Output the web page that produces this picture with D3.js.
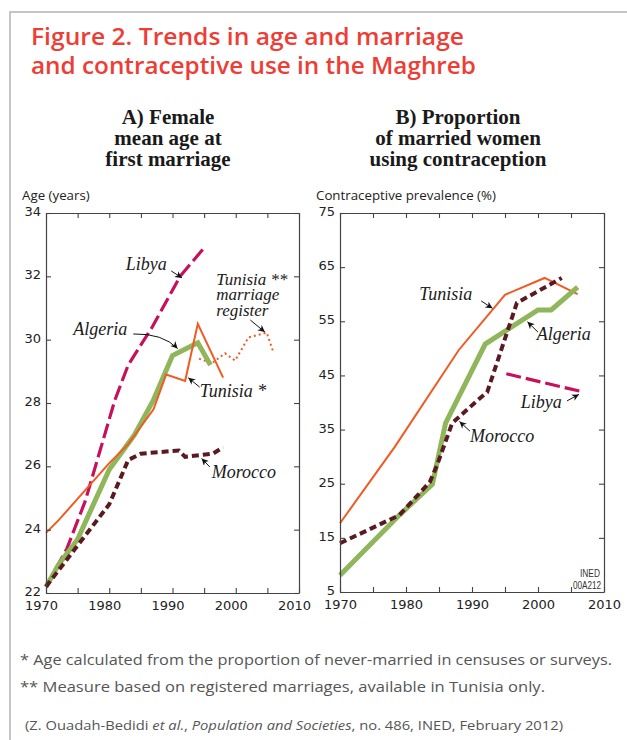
<!DOCTYPE html>
<html>
<head>
<meta charset="utf-8">
<script src="https://cdn.jsdelivr.net/npm/d3@7"></script>
<style>
  body { margin: 0; background: #fff; }
  svg { display: block; }
</style>
</head>
<body>
<script>
// Panel A: female mean age at first marriage  [year, age]
const libyaAge = [[1970,22.2],[1973.3,23.4],[1976.2,24.9],[1980.9,28.1],[1983,29.2],[1986.8,30.4],[1991.2,32.0],[1995,32.9]];
const algeriaAge = [[1970,22.2],[1972,22.9],[1975,23.7],[1980,25.9],[1984,27.0],[1987,28.1],[1990,29.5],[1994,29.9],[1996,29.2]];
const tunisiaAge = [[1970,23.9],[1972,24.3],[1976,25.2],[1980,26.1],[1983,26.7],[1987,27.8],[1989,28.9],[1992,28.7],[1994,30.5],[1998,28.8]];
const tunisiaRegister = [[1994.2,29.4],[1996.2,29.25],[1998.3,29.57],[1999.9,29.34],[2002,30.07],[2004.9,30.22],[2006,29.57]];
const moroccoAge = [[1970,22.2],[1975,23.5],[1980,24.8],[1983,26.2],[1985,26.4],[1991,26.5],[1992,26.3],[1996.4,26.4],[1998,26.6]];

// Panel B: contraceptive prevalence (%)  [year, percent]
const tunisiaCP = [[1970,17.7],[1978.3,31.8],[1988,49.7],[1995,59.9],[2001,63.0],[2006,60.0]];
const algeriaCP = [[1970,8.1],[1979,19.2],[1984,24.9],[1986,36.2],[1992,50.8],[2000,57.1],[2002,57.1],[2006,61.3]];
const moroccoCP = [[1970,14.0],[1979,19.2],[1983.6,25.3],[1984.7,28.4],[1987,36.2],[1991.2,40.8],[1992.3,41.9],[1996.8,58.4],[2003.6,63.0]];
const libyaCP = [[1995.2,45.3],[2007,41.9]];

const yearTicks = [1970,1975,1980,1985,1990,1995,2000,2005,2010];
const ageTicks = [22,24,26,28,30,32,34];
const cpTicks = [5,15,25,35,45,55,65,75];

const colors = { libya: "#c8105a", algeria: "#8fb65b", tunisia: "#f15a22", morocco: "#5b1a22" };

const W = 627, H = 740;
const svg = d3.select("body").append("svg").attr("width", W).attr("height", H);

// frame
svg.append("path").attr("d", "M10,740V12H627").attr("fill", "none").attr("stroke", "#b3b3b3").attr("stroke-width", 1.5);

// title
const title = svg.append("g").attr("font-family", "Open Sans").attr("font-weight", 600).attr("font-size", 24).attr("fill", "#ee3d35");
title.append("text").attr("x", 31).attr("y", 45).attr("textLength", 433).attr("lengthAdjust", "spacingAndGlyphs").text("Figure 2. Trends in age and marriage");
title.append("text").attr("x", 31).attr("y", 74).attr("textLength", 445).attr("lengthAdjust", "spacingAndGlyphs").text("and contraceptive use in the Maghreb");

// arrow marker
svg.append("defs").append("marker").attr("id", "ah").attr("viewBox", "0 0 10 10")
  .attr("refX", 10).attr("refY", 5).attr("markerWidth", 9).attr("markerHeight", 7)
  .attr("markerUnits", "userSpaceOnUse").attr("orient", "auto")
  .append("path").attr("d", "M0,0L10,5L0,10L3,5Z").attr("fill", "#111");

function panel(opts) {
  const x = d3.scaleLinear().domain([1970, 2010]).range(opts.xr);
  const y = d3.scaleLinear().domain(opts.yd).range(opts.yr);
  const g = svg.append("g");

  // subtitle
  const st = g.append("text").attr("font-family", "Liberation Serif").attr("font-weight", "bold")
    .attr("font-size", 21).attr("fill", "#1a1a1a").attr("text-anchor", "middle");
  opts.subtitle.forEach((s, i) => st.append("tspan").attr("x", opts.subX).attr("y", 124 + i * 21).text(s));

  g.append("text").attr("x", opts.axisTitleX).attr("y", 200).attr("font-family", "Open Sans")
    .attr("font-size", 13.3).attr("fill", "#222").text(opts.axisTitle);

  // lines
  const line = d3.line().x(d => x(d[0])).y(d => y(d[1]));
  opts.series.forEach(s => {
    g.append("path").attr("d", line(s.data)).attr("fill", "none")
      .attr("stroke", s.color).attr("stroke-width", s.width)
      .attr("stroke-dasharray", s.dash || null).attr("stroke-linejoin", "miter");
  });

  // axes (ticks inside)
  const tickStyle = sel => {
    sel.selectAll("path.domain").attr("stroke", "#444").attr("stroke-width", 1.2);
    sel.selectAll(".tick line").attr("stroke", "#444").attr("stroke-width", 1.1);
    sel.selectAll("text").attr("font-family", "DejaVu Sans").attr("font-size", 13).attr("fill", "#222");
  };
  const [x0, x1] = opts.xr, [yb, yt] = opts.yr;
  g.append("g").attr("transform", `translate(0,${yb})`)
    .call(d3.axisBottom(x).tickValues(yearTicks).tickFormat(d => d % 10 === 0 ? d : "").tickSizeInner(-5).tickSizeOuter(0).tickPadding(8))
    .call(tickStyle)
    .selectAll("text").attr("dx", opts.xLabelShift);
  g.append("g").attr("transform", `translate(0,${yt})`)
    .call(d3.axisTop(x).tickValues(yearTicks).tickFormat("").tickSizeInner(-5).tickSizeOuter(0))
    .call(tickStyle);
  g.append("g").attr("transform", `translate(${x0},0)`)
    .call(d3.axisLeft(y).tickValues(opts.yTicks).tickSizeInner(-5).tickSizeOuter(0).tickPadding(5))
    .call(tickStyle)
    .selectAll("text").attr("dy", "0.2em");
  g.append("g").attr("transform", `translate(${x1},0)`)
    .call(d3.axisRight(y).tickValues(opts.yTicks).tickFormat("").tickSizeInner(-5).tickSizeOuter(0))
    .call(tickStyle);

  // labels and arrows
  opts.labels.forEach(l => {
    const t = g.append("text").attr("font-family", "Liberation Serif").attr("font-style", "italic")
      .attr("font-size", l.size || 18).attr("fill", "#1a1a1a");
    l.text.forEach((s, i) => t.append("tspan").attr("x", x(l.at[0])).attr("y", y(l.at[1]) + i * 15.5).text(s));
    const p0 = [x(l.from[0]), y(l.from[1])], p1 = [x(l.to[0]), y(l.to[1])];
    const d = l.via ? `M${p0}Q${[x(l.via[0]), y(l.via[1])]} ${p1}` : `M${p0}L${p1}`;
    g.append("path").attr("d", d).attr("fill", "none").attr("stroke", "#111").attr("stroke-width", 1)
      .attr("marker-end", "url(#ah)");
  });
  return { x, y, g };
}

panel({
  xr: [46, 299], yr: [593, 213], yd: [22, 34], yTicks: ageTicks, subX: 168, xLabelShift: -5,
  subtitle: ["A) Female", "mean age at", "first marriage"],
  axisTitle: "Age (years)", axisTitleX: 22,
  series: [
    { data: libyaAge, color: colors.libya, width: 3.2, dash: "15,5" },
    { data: tunisiaRegister, color: colors.tunisia, width: 2, dash: "2,3" },
    { data: algeriaAge, color: colors.algeria, width: 5 },
    { data: tunisiaAge, color: colors.tunisia, width: 2 },
    { data: moroccoAge, color: colors.morocco, width: 4, dash: "7,4" }
  ],
  labels: [
    { text: ["Libya"], at: [1982.6, 32.2], from: [1989.8, 32.17], to: [1991.5, 31.95] },
    { text: ["Algeria"], at: [1974.3, 30.15], from: [1983.8, 30.18], via: [1988.5, 30.2], to: [1990.8, 29.72] },
    { text: ["Tunisia **", "marriage", "register"], at: [1996.9, 31.73], from: [2002.3, 30.62], to: [2004.6, 30.24], size: 17 },
    { text: ["Tunisia *"], at: [1994.3, 28.19], from: [1994.3, 28.5], to: [1992.5, 28.8] },
    { text: ["Morocco"], at: [1996.2, 25.63], from: [1995.9, 25.98], to: [1994.6, 26.25] }
  ]
});

const B = panel({
  xr: [340, 604], yr: [592, 213], yd: [5, 75], yTicks: cpTicks, subX: 458, xLabelShift: 0,
  subtitle: ["B) Proportion", "of married women", "using contraception"],
  axisTitle: "Contraceptive prevalence (%)", axisTitleX: 316,
  series: [
    { data: tunisiaCP, color: colors.tunisia, width: 2 },
    { data: algeriaCP, color: colors.algeria, width: 5 },
    { data: moroccoCP, color: colors.morocco, width: 4, dash: "7,4" },
    { data: libyaCP, color: colors.libya, width: 3.2, dash: "15,5" }
  ],
  labels: [
    { text: ["Tunisia"], at: [1982.0, 58.9], from: [1991.4, 58.75], to: [1993.1, 57.4] },
    { text: ["Algeria"], at: [1999.8, 51.5], from: [2000.0, 53.0], to: [1998.4, 54.9] },
    { text: ["Libya"], at: [1997.4, 39.0], from: [2004.4, 40.3], to: [2006.2, 41.5] },
    { text: ["Morocco"], at: [1989.7, 32.7], from: [1989.7, 34.7], to: [1988.1, 36.5] }
  ]
});

// source code box
const ined = B.g.append("g").attr("font-family", "Liberation Sans").attr("font-size", 10).attr("fill", "#333").attr("text-anchor", "end");
ined.append("text").attr("x", 600).attr("y", 577).attr("textLength", 20).attr("lengthAdjust", "spacingAndGlyphs").text("INED");
ined.append("text").attr("x", 601).attr("y", 589).attr("textLength", 28).attr("lengthAdjust", "spacingAndGlyphs").text("00A212");

// footnotes
const notes = svg.append("g").attr("font-family", "Open Sans").attr("fill", "#555");
notes.append("text").attr("x", 20).attr("y", 665).attr("font-size", 15).attr("textLength", 592).attr("lengthAdjust", "spacingAndGlyphs")
  .text("* Age calculated from the proportion of never-married in censuses or surveys.");
notes.append("text").attr("x", 20).attr("y", 692).attr("font-size", 15).attr("textLength", 525).attr("lengthAdjust", "spacingAndGlyphs")
  .text("** Measure based on registered marriages, available in Tunisia only.");
const src = notes.append("text").attr("x", 25).attr("y", 730).attr("font-size", 13).attr("textLength", 538).attr("lengthAdjust", "spacingAndGlyphs");
src.append("tspan").text("(Z. Ouadah-Bedidi ");
src.append("tspan").attr("font-style", "italic").text("et al.");
src.append("tspan").text(", ");
src.append("tspan").attr("font-style", "italic").text("Population and Societies");
src.append("tspan").text(", no. 486, INED, February 2012)");
</script>
</body>
</html>
